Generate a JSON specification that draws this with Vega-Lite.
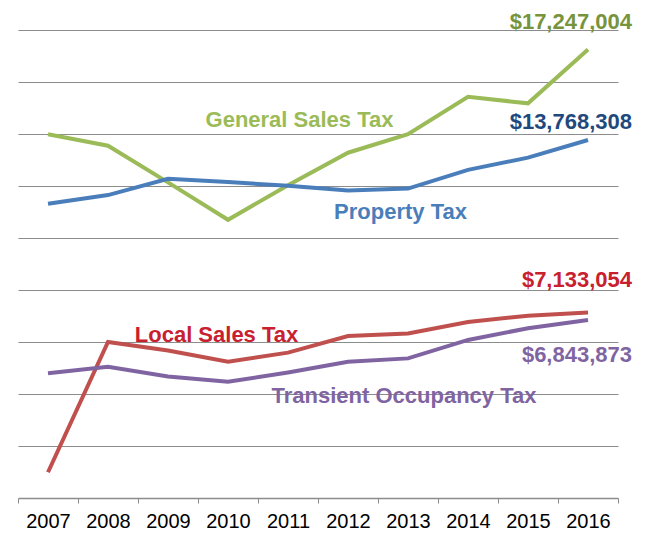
{
  "$schema": "https://vega.github.io/schema/vega-lite/v6.json",
  "autosize": "none",
  "width": 600,
  "height": 468,
  "padding": {"left": 18, "top": 30, "right": 29, "bottom": 35},
  "background": "white",
  "config": {"view": {"stroke": null}, "font": "Liberation Sans"},
  "data": {"values": [
    {"year": "2007", "series": "General Sales Tax", "value": 13990000},
    {"year": "2008", "series": "General Sales Tax", "value": 13550000},
    {"year": "2009", "series": "General Sales Tax", "value": 12140000},
    {"year": "2010", "series": "General Sales Tax", "value": 10700000},
    {"year": "2011", "series": "General Sales Tax", "value": 12030000},
    {"year": "2012", "series": "General Sales Tax", "value": 13280000},
    {"year": "2013", "series": "General Sales Tax", "value": 13990000},
    {"year": "2014", "series": "General Sales Tax", "value": 15430000},
    {"year": "2015", "series": "General Sales Tax", "value": 15180000},
    {"year": "2016", "series": "General Sales Tax", "value": 17247004},
    {"year": "2007", "series": "Property Tax", "value": 11320000},
    {"year": "2008", "series": "Property Tax", "value": 11650000},
    {"year": "2009", "series": "Property Tax", "value": 12280000},
    {"year": "2010", "series": "Property Tax", "value": 12150000},
    {"year": "2011", "series": "Property Tax", "value": 12010000},
    {"year": "2012", "series": "Property Tax", "value": 11830000},
    {"year": "2013", "series": "Property Tax", "value": 11900000},
    {"year": "2014", "series": "Property Tax", "value": 12620000},
    {"year": "2015", "series": "Property Tax", "value": 13090000},
    {"year": "2016", "series": "Property Tax", "value": 13768308},
    {"year": "2007", "series": "Local Sales Tax", "value": 990000},
    {"year": "2008", "series": "Local Sales Tax", "value": 6000000},
    {"year": "2009", "series": "Local Sales Tax", "value": 5670000},
    {"year": "2010", "series": "Local Sales Tax", "value": 5240000},
    {"year": "2011", "series": "Local Sales Tax", "value": 5590000},
    {"year": "2012", "series": "Local Sales Tax", "value": 6230000},
    {"year": "2013", "series": "Local Sales Tax", "value": 6330000},
    {"year": "2014", "series": "Local Sales Tax", "value": 6770000},
    {"year": "2015", "series": "Local Sales Tax", "value": 7010000},
    {"year": "2016", "series": "Local Sales Tax", "value": 7133054},
    {"year": "2007", "series": "Transient Occupancy Tax", "value": 4800000},
    {"year": "2008", "series": "Transient Occupancy Tax", "value": 5050000},
    {"year": "2009", "series": "Transient Occupancy Tax", "value": 4670000},
    {"year": "2010", "series": "Transient Occupancy Tax", "value": 4470000},
    {"year": "2011", "series": "Transient Occupancy Tax", "value": 4830000},
    {"year": "2012", "series": "Transient Occupancy Tax", "value": 5240000},
    {"year": "2013", "series": "Transient Occupancy Tax", "value": 5370000},
    {"year": "2014", "series": "Transient Occupancy Tax", "value": 6080000},
    {"year": "2015", "series": "Transient Occupancy Tax", "value": 6530000},
    {"year": "2016", "series": "Transient Occupancy Tax", "value": 6843873}
  ]},
  "encoding": {
    "x": {"field": "year", "type": "ordinal", "scale": {"type": "band", "paddingInner": 0, "paddingOuter": 0},
      "axis": {"title": null, "labelAngle": 0, "labelFontSize": 20, "labelColor": "#000000", "labelFont": "Liberation Sans",
        "tickBand": "extent", "domainColor": "#8c8c8c", "tickColor": "#8c8c8c", "tickSize": 5, "labelPadding": 8, "grid": false, "domainWidth": 1.5}},
    "y": {"field": "value", "type": "quantitative", "scale": {"domain": [0, 18000000], "nice": false, "zero": true},
      "axis": {"title": null, "labels": false, "ticks": false, "domain": false, "grid": true, "gridColor": "#8c8c8c", "gridWidth": 1.2,
        "values": [2000000, 4000000, 6000000, 8000000, 10000000, 12000000, 14000000, 16000000, 18000000]}}
  },
  "layer": [
    {"mark": {"type": "line", "strokeWidth": 4},
      "encoding": {"color": {"field": "series", "type": "nominal", "legend": null,
        "scale": {"domain": ["General Sales Tax", "Property Tax", "Local Sales Tax", "Transient Occupancy Tax"],
          "range": ["#9bbb59", "#4a7ebb", "#c0504d", "#8064a2"]}}}},
    {"transform": [{"filter": "datum.series == 'General Sales Tax' && datum.year == '2016'"}],
      "mark": {"type": "text", "align": "right", "baseline": "alphabetic", "dx": 44, "dy": -21, "fontSize": 22, "fontWeight": "bold", "color": "#77933c"},
      "encoding": {"text": {"field": "value", "type": "quantitative", "format": "$,.0f"}}},
    {"transform": [{"filter": "datum.series == 'Property Tax' && datum.year == '2016'"}],
      "mark": {"type": "text", "align": "right", "baseline": "alphabetic", "dx": 44, "dy": -11, "fontSize": 22, "fontWeight": "bold", "color": "#1f497d"},
      "encoding": {"text": {"field": "value", "type": "quantitative", "format": "$,.0f"}}},
    {"transform": [{"filter": "datum.series == 'Local Sales Tax' && datum.year == '2016'"}],
      "mark": {"type": "text", "align": "right", "baseline": "alphabetic", "dx": 44, "dy": -26, "fontSize": 22, "fontWeight": "bold", "color": "#c8202f"},
      "encoding": {"text": {"field": "value", "type": "quantitative", "format": "$,.0f"}}},
    {"transform": [{"filter": "datum.series == 'Transient Occupancy Tax' && datum.year == '2016'"}],
      "mark": {"type": "text", "align": "right", "baseline": "alphabetic", "dx": 44, "dy": 42, "fontSize": 22, "fontWeight": "bold", "color": "#8064a2"},
      "encoding": {"text": {"field": "value", "type": "quantitative", "format": "$,.0f"}}},
    {"transform": [{"filter": "datum.series == 'General Sales Tax' && datum.year == '2011'"}],
      "mark": {"type": "text", "align": "center", "baseline": "alphabetic", "dx": 11.5, "dy": -58, "fontSize": 22, "fontWeight": "bold", "color": "#9bbb59"},
      "encoding": {"text": {"field": "series"}}},
    {"transform": [{"filter": "datum.series == 'Property Tax' && datum.year == '2013'"}],
      "mark": {"type": "text", "align": "center", "baseline": "alphabetic", "dx": -7.5, "dy": 30, "fontSize": 22, "fontWeight": "bold", "color": "#4a7ebb"},
      "encoding": {"text": {"field": "series"}}},
    {"transform": [{"filter": "datum.series == 'Local Sales Tax' && datum.year == '2010'"}],
      "mark": {"type": "text", "align": "center", "baseline": "alphabetic", "dx": -11.5, "dy": -20, "fontSize": 22, "fontWeight": "bold", "color": "#c8202f"},
      "encoding": {"text": {"field": "series"}}},
    {"transform": [{"filter": "datum.series == 'Transient Occupancy Tax' && datum.year == '2013'"}],
      "mark": {"type": "text", "align": "center", "baseline": "alphabetic", "dx": -4, "dy": 45, "fontSize": 22, "fontWeight": "bold", "color": "#8064a2"},
      "encoding": {"text": {"field": "series"}}}
  ]
}
